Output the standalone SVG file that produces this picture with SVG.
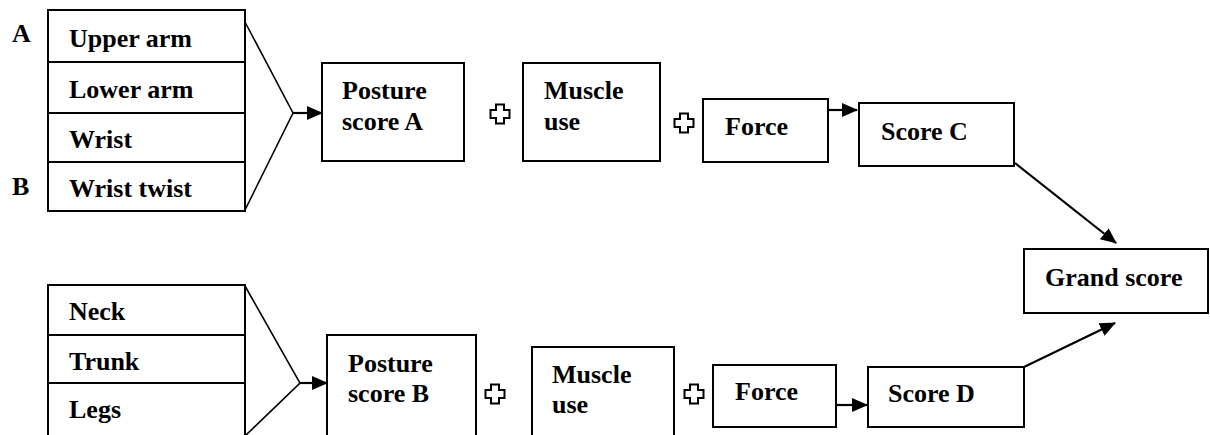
<svg xmlns="http://www.w3.org/2000/svg" width="1210" height="435" viewBox="0 0 1210 435">
<style>
text{font-family:"Liberation Serif","Times New Roman",serif;font-weight:bold;font-size:26px;fill:#000}
.box{fill:#fff;stroke:#000;stroke-width:2}
.ln{fill:none;stroke:#000;stroke-width:1.6}
.arr{fill:none;stroke:#000;stroke-width:2.2;marker-end:url(#ah)}
.plus{fill:#fff;stroke:#000;stroke-width:2}
</style>
<defs>
<marker id="ah" markerUnits="userSpaceOnUse" markerWidth="16" markerHeight="14" refX="15" refY="7" orient="auto">
<path d="M0,0 L16,7 L0,14 z" fill="#000"/>
</marker>
<path id="plus" d="M-4,-9.5 h8 v5.5 h5.5 v8 h-5.5 v5.5 h-8 v-5.5 h-5.5 v-8 h5.5 z"/>
</defs>
<g id="tableA">
<rect class="box" x="48" y="10" width="197" height="201"/>
<line class="box" x1="48" y1="62" x2="245" y2="62"/>
<line class="box" x1="48" y1="113" x2="245" y2="113"/>
<line class="box" x1="48" y1="162" x2="245" y2="162"/>
<text x="69" y="47">Upper arm</text>
<text x="69" y="98">Lower arm</text>
<text x="69" y="148">Wrist</text>
<text x="69" y="197">Wrist twist</text>
</g>
<g id="labelA"><text x="12" y="42">A</text></g>
<g id="labelB"><text x="12" y="195">B</text></g>
<g id="tableB">
<rect class="box" x="48" y="285" width="197" height="160"/>
<line class="box" x1="48" y1="335" x2="245" y2="335"/>
<line class="box" x1="48" y1="383" x2="245" y2="383"/>
<text x="69" y="320">Neck</text>
<text x="69" y="370">Trunk</text>
<text x="69" y="418">Legs</text>
</g>
<g id="postureA">
<rect class="box" x="322" y="63" width="142" height="98"/>
<text x="342" y="99">Posture</text>
<text x="342" y="130">score A</text>
</g>
<g id="muscleA">
<rect class="box" x="523" y="63" width="137" height="98"/>
<text x="544" y="99">Muscle</text>
<text x="544" y="130">use</text>
</g>
<g id="forceA">
<rect class="box" x="703" y="99" width="125" height="63"/>
<text x="725" y="135">Force</text>
</g>
<g id="scoreC">
<rect class="box" x="859" y="103" width="155" height="63"/>
<text x="881" y="140">Score C</text>
</g>
<g id="grand">
<rect class="box" x="1024" y="249" width="184" height="64"/>
<text x="1045" y="286">Grand score</text>
</g>
<g id="postureB">
<rect class="box" x="327" y="335" width="149" height="110"/>
<text x="348" y="372">Posture</text>
<text x="348" y="402">score B</text>
</g>
<g id="muscleB">
<rect class="box" x="532" y="347" width="142" height="98"/>
<text x="552" y="383">Muscle</text>
<text x="552" y="413">use</text>
</g>
<g id="forceB">
<rect class="box" x="713" y="365" width="123" height="62"/>
<text x="735" y="400">Force</text>
</g>
<g id="scoreD">
<rect class="box" x="868" y="367" width="156" height="60"/>
<text x="888" y="402">Score D</text>
</g>
<g id="plusSigns">
<use href="#plus" class="plus" x="500" y="114"/>
<use href="#plus" class="plus" x="684" y="123"/>
<use href="#plus" class="plus" x="495" y="394"/>
<use href="#plus" class="plus" x="694" y="394"/>
</g>
<g id="connectors">
<polyline class="ln" points="245,22 293,113 245,210"/>
<polyline class="ln" points="245,286 300,383 245,436"/>
<line class="arr" x1="293" y1="113" x2="322" y2="113"/>
<line class="arr" x1="300" y1="383" x2="327" y2="383"/>
<line class="arr" x1="828" y1="110" x2="857" y2="110"/>
<line class="arr" x1="836" y1="405" x2="867" y2="405"/>
<line class="arr" x1="1015" y1="163" x2="1116" y2="243"/>
<line class="arr" x1="1024" y1="367" x2="1115" y2="323"/>
</g>
</svg>
